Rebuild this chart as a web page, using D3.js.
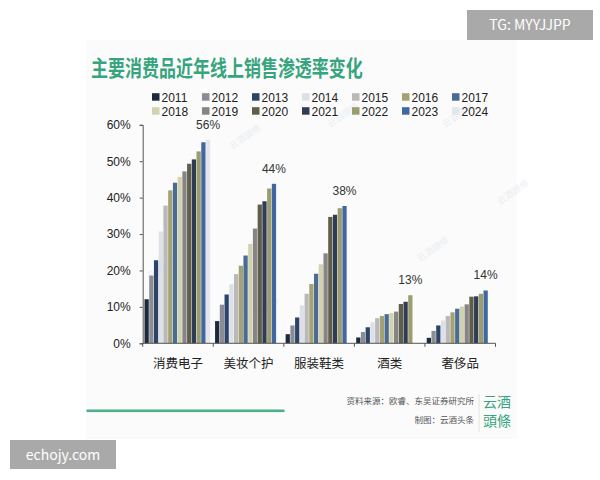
<!DOCTYPE html>
<html>
<head>
<meta charset="utf-8">
<script src="https://cdn.jsdelivr.net/npm/d3@7"></script>
<style>
    body { margin: 0; background: #ffffff; }
    svg { display: block; font-family: "Noto Sans CJK SC", "Noto Sans", sans-serif; }
</style>
</head>
<body>
<div id="chart-area"></div>
<script>

// Categories, years and penetration rates (%)
var categories = ["消费电子", "美妆个护", "服装鞋类", "酒类", "奢侈品"];
var years = ["2011", "2012", "2013", "2014", "2015", "2016", "2017",
             "2018", "2019", "2020", "2021", "2022", "2023", "2024"];

var electronics = [12.1, 18.6, 22.8, 30.7, 37.8, 42.0, 44.1, 45.7, 47.2, 49.3, 50.5, 52.7, 55.2, 55.9];
var beauty      = [6.1, 10.6, 13.4, 16.2, 19.0, 21.3, 24.1, 27.3, 31.5, 38.1, 39.0, 42.5, 43.8];
var apparel     = [2.5, 4.9, 7.1, 10.4, 13.6, 16.3, 19.1, 21.7, 24.7, 34.7, 35.3, 37.1, 37.7];
var liquor      = [1.6, 3.1, 4.4, 5.8, 6.9, 7.5, 8.0, 8.3, 8.7, 10.8, 11.4, 13.2];
var luxury      = [1.5, 3.4, 4.9, 6.3, 7.5, 8.5, 9.5, 10.1, 10.7, 12.8, 12.9, 13.6, 14.5];

var seriesValues = [electronics, beauty, apparel, liquor, luxury];
var valueLabels = ["56%", "44%", "38%", "13%", "14%"];
var yTicks = [0, 10, 20, 30, 40, 50, 60];

var yearColors = ["#1c2a3c", "#8a8d94", "#2c4468", "#dde0e6", "#b9b9b9", "#a4a274", "#4a6b92",
                  "#d2d1b0", "#868484", "#5f5e48", "#2e3d55", "#9c9d6e", "#3f68a0", "#e4e6ec"];

var width = 600, height = 480;
var digitFont = "Liberation Sans, Arial, sans-serif";

var svg = d3.select("#chart-area").append("svg")
    .attr("width", width)
    .attr("height", height);

// Card background
svg.append("rect")
    .attr("x", 86).attr("y", 40)
    .attr("width", 431).attr("height", 399)
    .attr("fill", "#fbfbfb");

// Title
svg.append("text")
    .attr("transform", "translate(91,76) scale(1,1.3)")
    .attr("font-size", 17)
    .attr("font-weight", 700)
    .attr("fill", "#36a47c")
    .text("主要消费品近年线上销售渗透率变化");

// Faint watermarks
var marks = [[150, 280], [232, 150], [330, 128], [420, 262], [250, 322], [500, 205], [445, 128]];
svg.selectAll(".wm").data(marks).enter().append("text")
    .attr("class", "wm")
    .attr("transform", function(d) { return "translate(" + d[0] + "," + d[1] + ") rotate(-35)"; })
    .attr("font-size", 9)
    .attr("fill", "#ccd5df")
    .attr("opacity", 0.35)
    .text("云酒頭條");

// Scales
var x0 = d3.scaleBand()
    .domain(categories)
    .range([142.7, 495.5]);

var x1 = d3.scaleBand()
    .domain(years)
    .range([1.8, x0.bandwidth() - 3])
    .paddingInner(0.1);

var y = d3.scaleLinear()
    .domain([0, 60])
    .range([343.3, 124.8]);

var color = d3.scaleOrdinal()
    .domain(years)
    .range(yearColors);

// Legend (two rows of seven)
var legend = svg.selectAll(".legend").data(years).enter().append("g")
    .attr("class", "legend")
    .attr("transform", function(d, i) {
        return "translate(" + (152 + (i % 7) * 50) + "," + (i < 7 ? 97.2 : 111.2) + ")";
    });

legend.append("rect")
    .attr("x", 0).attr("y", -4)
    .attr("width", 7.5).attr("height", 7.5)
    .attr("fill", function(d) { return color(d); });

legend.append("text")
    .attr("x", 9.5)
    .attr("dy", "0.36em")
    .attr("font-size", 12)
    .attr("font-family", digitFont)
    .attr("fill", "#222")
    .text(function(d) { return d; });

// Bars
var groups = svg.selectAll(".group").data(categories).enter().append("g")
    .attr("class", "group")
    .attr("transform", function(d) { return "translate(" + x0(d) + ",0)"; });

groups.selectAll("rect")
    .data(function(d, i) {
        return seriesValues[i].map(function(v, j) { return {year: years[j], value: v}; });
    })
    .enter().append("rect")
    .attr("x", function(d) { return x1(d.year); })
    .attr("y", function(d) { return y(d.value); })
    .attr("width", x1.bandwidth())
    .attr("height", function(d) { return y(0) - y(d.value); })
    .attr("fill", function(d) { return color(d.year); });

// Value labels above the latest bar of each group
groups.append("text")
    .attr("x", function(d, i) { return x1(years[seriesValues[i].length - 1]) + x1.bandwidth() / 2; })
    .attr("y", function(d, i) { var s = seriesValues[i]; return y(s[s.length - 1]) - 11; })
    .attr("text-anchor", "middle")
    .attr("font-size", 12)
    .attr("font-family", digitFont)
    .attr("fill", "#333")
    .text(function(d, i) { return valueLabels[i]; });

// Y axis
var yAxis = d3.axisLeft(y)
    .tickValues(yTicks)
    .tickSize(3)
    .tickPadding(9)
    .tickFormat(function(d) { return d + "%"; });

var yg = svg.append("g")
    .attr("transform", "translate(142.7,0)")
    .call(yAxis);

yg.select(".domain").attr("stroke", "#555");
yg.selectAll(".tick line").attr("stroke", "#555");
yg.selectAll(".tick text").attr("font-size", 12).attr("fill", "#222")
    .attr("font-family", digitFont);

// X axis with ticks at category boundaries
var xg = svg.append("g")
    .attr("transform", "translate(0," + y(0) + ")");

xg.append("line")
    .attr("x1", 142.7).attr("x2", 495.5)
    .attr("stroke", "#555");

xg.selectAll(".sep").data(categories.concat(["end"])).enter().append("line")
    .attr("class", "sep")
    .attr("x1", function(d, i) { return x0.range()[0] + i * x0.step(); })
    .attr("x2", function(d, i) { return x0.range()[0] + i * x0.step(); })
    .attr("y1", 0).attr("y2", 3.5)
    .attr("stroke", "#555");

xg.selectAll(".cat").data(categories).enter().append("text")
    .attr("class", "cat")
    .attr("x", function(d) { return x0(d) + x0.bandwidth() / 2; })
    .attr("y", 25)
    .attr("text-anchor", "middle")
    .attr("font-size", 12.5)
    .attr("fill", "#222")
    .text(function(d) { return d; });

// Footer: green rule, source notes and logo
svg.append("rect")
    .attr("x", 86.5).attr("y", 409.5)
    .attr("width", 198).attr("height", 2.6)
    .attr("fill", "#4daf88");

svg.append("text")
    .attr("x", 474).attr("y", 404)
    .attr("text-anchor", "end")
    .attr("font-size", 8.5)
    .attr("fill", "#555")
    .text("资料来源：欧睿、东吴证券研究所");

svg.append("text")
    .attr("x", 474).attr("y", 423)
    .attr("text-anchor", "end")
    .attr("font-size", 8.5)
    .attr("fill", "#555")
    .text("制图：云酒头条");

svg.append("line")
    .attr("x1", 479).attr("x2", 479)
    .attr("y1", 394).attr("y2", 432)
    .attr("stroke", "#e2e2e2");

svg.append("text")
    .attr("x", 483).attr("y", 407)
    .attr("font-size", 14)
    .attr("fill", "#36a47c")
    .text("云酒");

svg.append("text")
    .attr("x", 483).attr("y", 426)
    .attr("font-size", 14)
    .attr("fill", "#36a47c")
    .text("頭條");

// Overlay tags
svg.append("rect")
    .attr("x", 467).attr("y", 10)
    .attr("width", 126).attr("height", 30)
    .attr("fill", "#a9a9a9");

svg.append("text")
    .attr("x", 530).attr("y", 25)
    .attr("dy", "0.36em")
    .attr("text-anchor", "middle")
    .attr("font-size", 14)
    .attr("fill", "#ffffff")
    .text("TG: MYYJJPP");

svg.append("rect")
    .attr("x", 10).attr("y", 440)
    .attr("width", 106).attr("height", 29)
    .attr("fill", "#a9a9a9");

svg.append("text")
    .attr("x", 63).attr("y", 454.5)
    .attr("dy", "0.36em")
    .attr("text-anchor", "middle")
    .attr("font-size", 14)
    .attr("fill", "#ffffff")
    .text("echojy.com");

</script>
</body>
</html>
